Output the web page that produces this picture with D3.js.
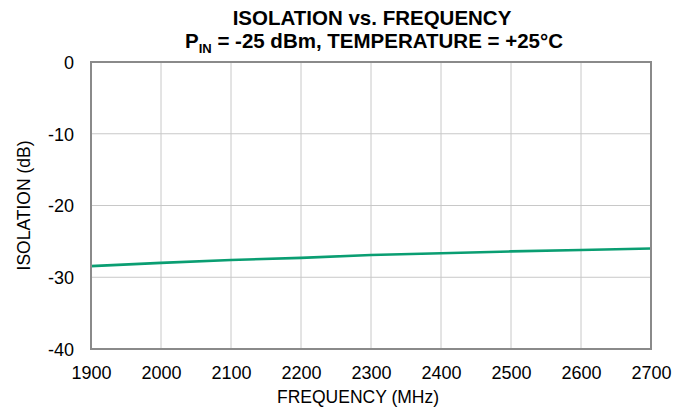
<!DOCTYPE html>
<html><head><meta charset="utf-8">
<script src="https://cdn.jsdelivr.net/npm/d3@7"></script>
<style>body{margin:0;background:#fff}svg{display:block}text{font-family:"Liberation Sans",Arimo,Arial,sans-serif}</style>
</head><body>
<script>
const freq = [1900, 2000, 2100, 2200, 2300, 2400, 2500, 2600, 2700];
const isolation = [-28.45, -28.0, -27.6, -27.3, -26.9, -26.65, -26.4, -26.2, -26.0];
const xTicks = [1900, 2000, 2100, 2200, 2300, 2400, 2500, 2600, 2700];
const yTicks = [0, -10, -20, -30, -40];

const W = 688, H = 408;
const m = {l: 91, r: 37, t: 62, b: 59};
const svg = d3.select("body").append("svg").attr("width", W).attr("height", H);
const x = d3.scaleLinear().domain([1900, 2700]).range([m.l, W - m.r]);
const y = d3.scaleLinear().domain([-40, 0]).range([H - m.b, m.t]);
const fmt = d => String(d);

// grid
svg.append("g").selectAll("line").data(xTicks.slice(1, -1)).join("line")
  .attr("x1", d => x(d)).attr("x2", d => x(d)).attr("y1", m.t).attr("y2", H - m.b)
  .attr("stroke", "#c8c8c8").attr("stroke-width", 1);
svg.append("g").selectAll("line").data(yTicks.slice(1, -1)).join("line")
  .attr("y1", d => y(d)).attr("y2", d => y(d)).attr("x1", m.l).attr("x2", W - m.r)
  .attr("stroke", "#c8c8c8").attr("stroke-width", 1);

// line
svg.append("path").datum(freq.map((f, i) => [f, isolation[i]]))
  .attr("fill", "none").attr("stroke", "#0a9e72").attr("stroke-width", 2.6)
  .attr("d", d3.line().x(d => x(d[0])).y(d => y(d[1])));

// frame
svg.append("rect").attr("x", m.l).attr("y", m.t).attr("width", W - m.r - m.l).attr("height", H - m.b - m.t)
  .attr("fill", "none").attr("stroke", "#8a8a8a").attr("stroke-width", 2);

// axes labels
const xa = svg.append("g").attr("transform", `translate(0,${H - m.b})`)
  .call(d3.axisBottom(x).tickValues(xTicks).tickFormat(fmt).tickSize(0).tickPadding(0));
xa.select(".domain").remove();
xa.selectAll("text").attr("font-size", 18).attr("fill", "#000").attr("dy", null).attr("y", 30);

const ya = svg.append("g").attr("transform", `translate(${m.l},0)`)
  .call(d3.axisLeft(y).tickValues(yTicks).tickFormat(fmt).tickSize(0).tickPadding(0));
ya.select(".domain").remove();
ya.selectAll("text").attr("font-size", 18).attr("fill", "#000").attr("x", -17).attr("dy", "0.35em");

// titles
svg.append("text").attr("x", 372).attr("y", 25).attr("text-anchor", "middle")
  .attr("font-size", 20.5).attr("font-weight", "bold").text("ISOLATION vs. FREQUENCY");
const t2 = svg.append("text").attr("x", 374).attr("y", 48).attr("text-anchor", "middle")
  .attr("font-size", 20.5).attr("font-weight", "bold");
t2.append("tspan").text("P");
t2.append("tspan").attr("font-size", 13).attr("dy", 5).text("IN");
t2.append("tspan").attr("dy", -5).text(" = -25 dBm, TEMPERATURE = +25°C");

svg.append("text").attr("x", 358).attr("y", 403).attr("text-anchor", "middle")
  .attr("font-size", 17.5).text("FREQUENCY (MHz)");
svg.append("text").attr("transform", `translate(30,${y(-20)}) rotate(-90)`).attr("text-anchor", "middle")
  .attr("font-size", 17.5).text("ISOLATION (dB)");
</script>
</body></html>
